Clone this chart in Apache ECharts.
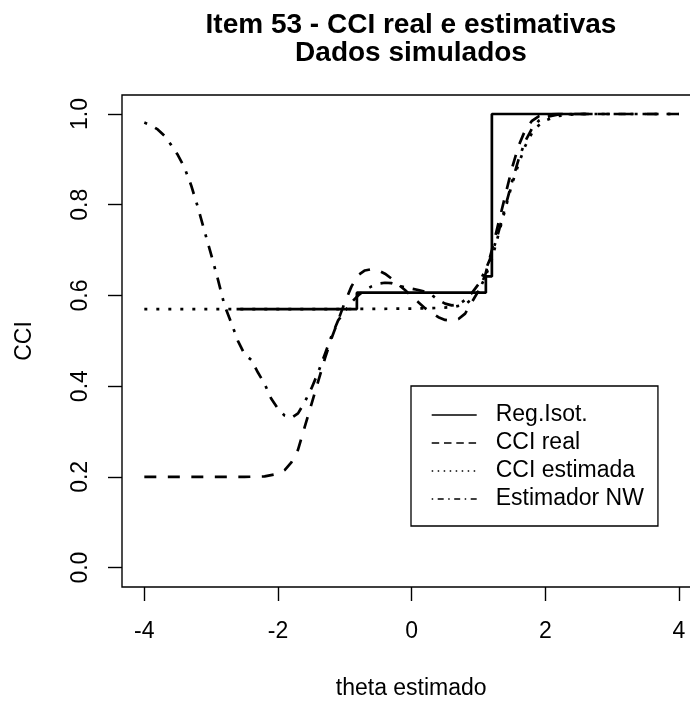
<!DOCTYPE html>
<html>
<head>
<meta charset="utf-8">
<script src="https://cdn.jsdelivr.net/npm/echarts@6/dist/echarts.min.js"></script>
<style>
html,body{margin:0;padding:0;background:#fff;}
#chart{width:690px;height:704px;}
</style>
</head>
<body>
<div id="chart"></div>
<script>
// ---- data ----
const xTicks = [-4, -2, 0, 2, 4];
const yTicks = [0, 0.2, 0.4, 0.6, 0.8, 1.0];

// Reg.Isot. (step function, breakpoints)
const isoX = [-2.62, -0.82, 1.11, 1.20, 2.65];
const isoY = [0.570, 0.606, 0.642, 1.000, 1.000];

// CCI real
const realX = [-4, -3.5, -3, -2.5, -2.2, -2.0, -1.9, -1.8, -1.7, -1.6, -1.5, -1.4, -1.3, -1.2, -1.1, -1.0, -0.9, -0.8, -0.7, -0.6, -0.5, -0.4, -0.3, -0.2, -0.1, 0, 0.1, 0.2, 0.3, 0.4, 0.5, 0.6, 0.7, 0.8, 0.9, 1.0, 1.1, 1.2, 1.3, 1.4, 1.5, 1.6, 1.7, 1.8, 1.9, 2.0, 2.2, 2.5, 3, 3.5, 4];
const realY = [0.2, 0.2, 0.2, 0.2, 0.201, 0.207, 0.215, 0.232, 0.26, 0.31, 0.36, 0.41, 0.46, 0.505, 0.545, 0.585, 0.62, 0.645, 0.655, 0.658, 0.655, 0.648, 0.637, 0.624, 0.612, 0.598, 0.585, 0.572, 0.562, 0.552, 0.546, 0.544, 0.548, 0.56, 0.585, 0.61, 0.645, 0.70, 0.76, 0.82, 0.88, 0.93, 0.965, 0.985, 0.995, 0.999, 1.0, 1.0, 1.0, 1.0, 1.0];

// CCI estimada
const estX = [-4, -3, -2, -1, 0, 0.3, 0.6, 0.8, 0.9, 1.0, 1.1, 1.2, 1.3, 1.4, 1.5, 1.6, 1.7, 1.8, 1.9, 2.0, 2.2, 2.5, 3, 3.5, 4];
const estY = [0.57, 0.57, 0.57, 0.57, 0.571, 0.572, 0.574, 0.58, 0.592, 0.61, 0.64, 0.68, 0.735, 0.79, 0.845, 0.89, 0.93, 0.958, 0.975, 0.986, 0.996, 1.0, 1.0, 1.0, 1.0];

// Estimador NW
const nwX = [-4, -3.9, -3.8, -3.7, -3.6, -3.5, -3.4, -3.3, -3.2, -3.1, -3.0, -2.9, -2.8, -2.7, -2.6, -2.5, -2.4, -2.3, -2.2, -2.1, -2.0, -1.9, -1.8, -1.7, -1.6, -1.5, -1.4, -1.3, -1.2, -1.1, -1.0, -0.9, -0.8, -0.7, -0.6, -0.5, -0.4, -0.3, -0.2, -0.1, 0, 0.1, 0.2, 0.3, 0.4, 0.5, 0.6, 0.7, 0.8, 0.9, 1.0, 1.1, 1.2, 1.3, 1.4, 1.5, 1.6, 1.7, 1.8, 1.9, 2.0, 2.2, 2.5, 3.0, 3.5, 4.0];
const nwY = [0.981, 0.975, 0.966, 0.952, 0.932, 0.91, 0.882, 0.843, 0.795, 0.742, 0.69, 0.636, 0.578, 0.54, 0.5, 0.47, 0.458, 0.43, 0.405, 0.372, 0.35, 0.335, 0.33, 0.34, 0.365, 0.395, 0.43, 0.47, 0.51, 0.545, 0.565, 0.585, 0.6, 0.612, 0.62, 0.626, 0.628, 0.627, 0.622, 0.618, 0.615, 0.612, 0.608, 0.601, 0.59, 0.582, 0.578, 0.58, 0.59, 0.605, 0.625, 0.655, 0.69, 0.74, 0.795, 0.85, 0.9, 0.94, 0.968, 0.985, 0.993, 0.999, 1.0, 1.0, 1.0, 1.0];

const names = ['Reg.Isot.', 'CCI real', 'CCI estimada', 'Estimador NW'];
const titleText = 'Item 53 - CCI real e estimativas\nDados simulados';
const xName = 'theta estimado';
const yName = 'CCI';

// ---- build ----
const zip = (xs, ys) => xs.map((x, i) => [x, ys[i]]);
const FONT = '"Liberation Sans", Arial, sans-serif';
const LW = 2.7;
const hiddenSymbol = {opacity: 0, color: 'transparent', borderWidth: 0};

const chart = echarts.init(document.getElementById('chart'), null, {renderer: 'canvas'});
chart.setOption({
  animation: false,
  backgroundColor: '#fff',
  title: {
    text: titleText,
    left: 411,
    textAlign: 'center',
    top: 11,
    padding: 0,
    textStyle: {fontFamily: FONT, fontSize: 28, fontWeight: 'bold', color: '#000', lineHeight: 28}
  },
  grid: {
    left: 122, top: 95, width: 578.4, height: 492,
    show: true, borderColor: '#000', borderWidth: 1.4, backgroundColor: 'transparent',
    outerBoundsMode: 'none', containLabel: false
  },
  xAxis: {
    type: 'value', min: -4.334, max: 4.32, position: 'bottom',
    name: xName, nameLocation: 'middle', nameGap: 90,
    nameTextStyle: {fontFamily: FONT, fontSize: 23, color: '#000'},
    axisLine: {show: false, onZero: false},
    splitLine: {show: false},
    axisTick: {show: true, length: 14, customValues: xTicks, lineStyle: {color: '#000', width: 1.4}},
    axisLabel: {show: true, customValues: xTicks, margin: 33, fontFamily: FONT, fontSize: 23, color: '#000',
      formatter: v => String(v)}
  },
  yAxis: {
    type: 'value', min: -0.0428, max: 1.0419, position: 'left',
    name: yName, nameLocation: 'middle', nameGap: 86, nameRotate: 90,
    nameTextStyle: {fontFamily: FONT, fontSize: 23, color: '#000'},
    axisLine: {show: false, onZero: false},
    splitLine: {show: false},
    axisTick: {show: true, length: 14, customValues: yTicks, lineStyle: {color: '#000', width: 1.4}},
    axisLabel: {show: true, customValues: yTicks, margin: 30, rotate: 90, fontFamily: FONT, fontSize: 23, color: '#000',
      formatter: v => v.toFixed(1)}
  },
  legend: {
    orient: 'vertical', left: 411, top: 386,
    padding: [15, 14, 13, 20], itemGap: 0, itemWidth: 45, itemHeight: 28,
    borderColor: '#000', borderWidth: 1.3, borderRadius: 0, backgroundColor: '#fff',
    selectedMode: false,
    itemStyle: hiddenSymbol,
    textStyle: {fontFamily: FONT, fontSize: 23, color: '#000', lineHeight: 28, padding: [0, 0, 0, 14]},
    data: [
      {name: names[0], itemStyle: hiddenSymbol, lineStyle: {type: 'solid', width: 1.4, color: '#000'}},
      {name: names[1], itemStyle: hiddenSymbol, lineStyle: {type: [7.5, 4.8], width: 1.4, color: '#000'}},
      {name: names[2], itemStyle: hiddenSymbol, lineStyle: {type: [1.5, 4.5], width: 1.4, color: '#000'}},
      {name: names[3], itemStyle: hiddenSymbol, lineStyle: {type: [1.5, 4.5, 6, 4.5], width: 1.4, color: '#000'}}
    ]
  },
  series: [
    {name: names[0], type: 'line', step: 'end', data: zip(isoX, isoY), symbol: 'none', showSymbol: false,
      lineStyle: {color: '#000', width: LW, type: 'solid'}, itemStyle: {color: '#000'}},
    {name: names[1], type: 'line', data: zip(realX, realY), symbol: 'none', showSymbol: false,
      lineStyle: {color: '#000', width: LW, type: [12, 11.5]}, itemStyle: {color: '#000'}},
    {name: names[2], type: 'line', data: zip(estX, estY), symbol: 'none', showSymbol: false,
      lineStyle: {color: '#000', width: LW, type: [3, 9]}, itemStyle: {color: '#000'}},
    {name: names[3], type: 'line', data: zip(nwX, nwY), symbol: 'none', showSymbol: false,
      lineStyle: {color: '#000', width: LW, type: [3, 9, 12, 9]}, itemStyle: {color: '#000'}}
  ]
});
</script>
</body>
</html>
